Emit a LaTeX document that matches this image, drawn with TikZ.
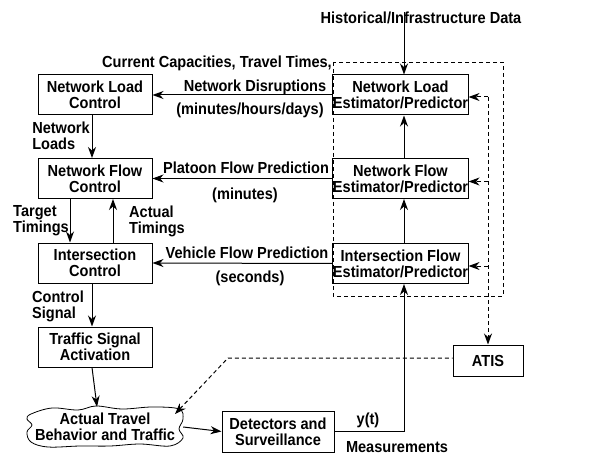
\documentclass[tikz,border=0pt]{standalone}
\usepackage{fontspec}
\setmainfont{Liberation Sans}[FakeStretch=0.91]
\usetikzlibrary{arrows.meta}
\tikzset{
  blk/.style={draw, line width=1pt, align=center, inner sep=0pt,
    minimum width=114pt, minimum height=40pt},
  est/.style={blk, minimum width=123pt},
  lbl/.style={align=left, inner sep=0pt},
  flow/.style={line width=1pt, -{Stealth[length=11pt,width=8pt,inset=3.5pt]}},
  info/.style={flow, dashed, dash pattern=on 4pt off 3pt}
}
\begin{document}
\begin{tikzpicture}[x=1pt, y=-1pt, font=\fontsize{16}{16}\selectfont\bfseries]
  \useasboundingbox (0, 0) rectangle (607, 457);
  % left column
  \node[blk] (nlc) at (95, 95) {Network Load\\Control};
  \node[blk] (nfc) at (95, 178.5) {Network Flow\\Control};
  \node[blk] (ic) at (95, 263) {Intersection\\Control};
  \node[blk] (tsa) at (95, 347) {Traffic Signal\\Activation};
  % right column
  \node[est] (nle) at (400.5, 95) {Network Load\\Estimator/Predictor};
  \node[est] (nfe) at (400.5, 178.5) {Network Flow\\Estimator/Predictor};
  \node[est] (ife) at (400.5, 263.5) {Intersection Flow\\Estimator/Predictor};
  \node[lbl] (hist) at (421, 18) {Historical/Infrastructure Data};
  \draw[dashed, line width=0.8pt, dash pattern=on 4pt off 3pt] (333, 62) rectangle (503, 296);
  % bottom row
  \draw[line width=0.8pt] plot[smooth cycle, tension=0.6] coordinates {
    (31, 414) (52, 408) (78, 410) (96, 406) (122, 409) (152, 407) (179, 409)
    (183, 419) (179, 429) (183, 438) (170, 446) (140, 444) (110, 446)
    (80, 446) (48, 447) (31, 442) (27, 432) (32, 425) (27, 419)};
  \node[lbl, align=center, minimum width=156pt, minimum height=40pt] (traffic) at (105, 427)
    {Actual Travel\\Behavior and Traffic};
  \node[blk, minimum width=112pt, minimum height=41pt] (det) at (278, 431.5) {Detectors and\\Surveillance};
  \node[blk, minimum width=70pt, minimum height=31pt] (atis) at (488, 360.5) {ATIS};
  \coordinate (bend) at (228, 358);
  \coordinate (cloudtip) at (175, 414);
  % labels
  \node[lbl] (l1) at (217, 63) {Current Capacities, Travel Times,};
  \node[lbl] (l2) at (255, 87) {Network Disruptions};
  \node[lbl] (l3) at (250, 110) {(minutes/hours/days)};
  \node[lbl] (l4) at (61, 136) {Network\\Loads};
  \node[lbl] (l5) at (246, 168) {Platoon Flow Prediction};
  \node[lbl] (l6) at (245, 195) {(minutes)};
  \node[lbl] (l7) at (41, 221) {Target\\Timings};
  \node[lbl] (l8) at (157, 221) {Actual\\Timings};
  \node[lbl] (l9) at (247, 253) {Vehicle Flow Prediction};
  \node[lbl] (l10) at (250, 278) {(seconds)};
  \node[lbl] (l11) at (58, 306) {Control\\Signal};
  \node[lbl] (l12) at (368, 420) {y(t)};
  \node[lbl] (l13) at (397, 447.5) {Measurements};
  % connectors
  \draw[flow] (nle.west) -- (nlc.east);
  \draw[flow] (nfe.west) -- (nfc.east);
  \draw[flow] (ife.west) -- (ic.east);
  \draw[flow] ([xshift=-3pt]nlc.south) -- ([xshift=-3pt]nfc.north);
  \draw[flow] ([xshift=-25pt]nfc.south) -- ([xshift=-25pt]ic.north);
  \draw[flow] ([xshift=18pt]ic.north) -- ([xshift=18pt]nfc.south);
  \draw[flow] ([xshift=-3pt]ic.south) -- ([xshift=-3pt]tsa.north);
  \draw[flow] ([xshift=-3pt]tsa.south) -- ([xshift=-8pt]traffic.north);
  \draw[flow] (traffic.east) -- (det.east -| det.west);
  \draw[flow] (det.east) -| ([xshift=3.5pt]ife.south);
  \draw[flow] ([xshift=3.5pt]ife.north) -- ([xshift=3.5pt]nfe.south);
  \draw[flow] ([xshift=3.5pt]nfe.north) -- ([xshift=3.5pt]nle.south);
  \draw[flow] ([xshift=-17pt, yshift=12pt]hist.south) -- ([xshift=3.5pt]nle.north);
  % ATIS feedback
  \draw[info] ([yshift=-2pt]atis.north |- nle.east) -- (atis.north);
  \draw[info] ([yshift=-2pt]atis.north |- nle.east) -- ([yshift=-2pt]nle.east);
  \draw[info] ([yshift=-3pt]atis.north |- nfe.east) -- ([yshift=-3pt]nfe.east);
  \draw[info] ([yshift=-2.5pt]atis.north |- ife.east) -- ([yshift=-2.5pt]ife.east);
  \draw[info, {Stealth[length=11pt,width=8pt,inset=3.5pt]}-] (cloudtip) -- (bend) -- (bend -| atis.west);
\end{tikzpicture}
\end{document}
